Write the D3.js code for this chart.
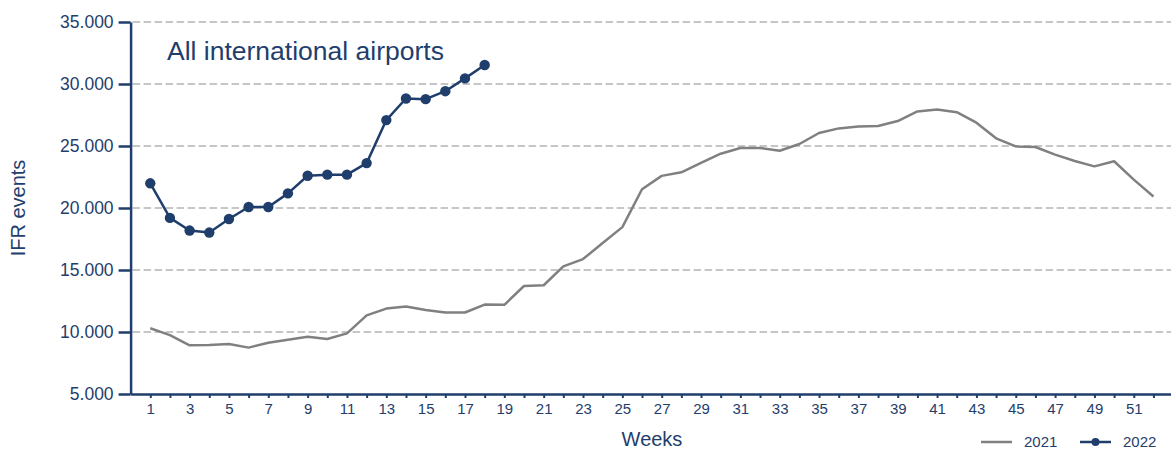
<!DOCTYPE html>
<html>
<head>
<meta charset="utf-8">
<script src="https://cdn.jsdelivr.net/npm/d3@7"></script>
<style>
  html, body { margin: 0; padding: 0; background: #fff; }
  svg { display: block; font-family: "Liberation Sans", Arial, sans-serif; }
</style>
</head>
<body>
<svg id="chart" width="1171" height="450"></svg>
<script>
const weeks2021 = [1,2,3,4,5,6,7,8,9,10,11,12,13,14,15,16,17,18,19,20,21,22,23,24,25,26,
  27,28,29,30,31,32,33,34,35,36,37,38,39,40,41,42,43,44,45,46,47,48,49,50,51,52];
const values2021 = [10300, 9750, 8930, 8950, 9040, 8740, 9140, 9380, 9620, 9440,
  9890, 11340, 11890, 12050, 11780, 11570, 11570, 12210, 12190, 13710,
  13770, 15290, 15880, 17170, 18460, 21510, 22590, 22880, 23630, 24380,
  24840, 24840, 24620, 25160, 26050, 26420, 26580, 26610, 27010, 27790,
  27950, 27730, 26880, 25620, 24970, 24920, 24300, 23790, 23360, 23770,
  22290, 20930];
const weeks2022 = [1,2,3,4,5,6,7,8,9,10,11,12,13,14,15,16,17,18];
const values2022 = [21990, 19200, 18180, 18020, 19110, 20080, 20080, 21180, 22600,
  22690, 22690, 23620, 27090, 28830, 28780, 29420, 30450, 31530];
const yTicks = [5000, 10000, 15000, 20000, 25000, 30000, 35000];
const seriesNames = ["2021", "2022"];
const titleText = "All international airports";
const xTitle = "Weeks";
const yTitle = "IFR events";

const navy = "#1f3e6c";
const grey = "#808080";

const svg = d3.select("#chart");
const x = d3.scaleLinear().domain([0, 53]).range([130.6, 130.6 + 53 * 19.67]);
const y = d3.scaleLinear().domain([5000, 35000]).range([394, 22]);

const loc = d3.formatLocale({decimal: ",", thousands: ".", grouping: [3], currency: ["", ""]});
const fmt = loc.format(",.0f");

// gridlines
svg.append("g").selectAll("line")
  .data(yTicks.filter(d => d > 5000))
  .join("line")
  .attr("x1", x(0) + 2).attr("x2", 1171)
  .attr("y1", d => y(d)).attr("y2", d => y(d))
  .attr("stroke", "#c6c6c6").attr("stroke-width", 2)
  .attr("stroke-dasharray", "7.5,3.5");

// y axis
const yAxis = svg.append("g")
  .attr("transform", `translate(${x(0)},0)`)
  .call(d3.axisLeft(y).tickValues(yTicks).tickFormat(fmt).tickSize(12).tickSizeOuter(0).tickPadding(5));
yAxis.select(".domain").attr("stroke", navy).attr("stroke-width", 2.5);
yAxis.selectAll(".tick line").attr("stroke", navy).attr("stroke-width", 2.5);
yAxis.selectAll(".tick text").attr("fill", navy).attr("font-size", 17.5)
  .attr("font-family", "Liberation Sans, Arial, sans-serif");

// x axis
const xAxis = svg.append("g")
  .attr("transform", `translate(0,${y(5000)})`)
  .call(d3.axisBottom(x).tickValues(weeks2021)
    .tickFormat(d => d % 2 === 1 ? d : "").tickSize(4).tickSizeOuter(0).tickPadding(5));
xAxis.select(".domain").attr("stroke", navy).attr("stroke-width", 2.5);
xAxis.selectAll(".tick line").attr("stroke", navy).attr("stroke-width", 2);
xAxis.selectAll(".tick text").attr("fill", navy).attr("font-size", 15)
  .attr("font-family", "Liberation Sans, Arial, sans-serif");

// lines
const line = d3.line().x(d => x(d[0])).y(d => y(d[1]));
svg.append("path")
  .datum(weeks2021.map((w, i) => [w, values2021[i]]))
  .attr("d", line).attr("fill", "none")
  .attr("stroke", grey).attr("stroke-width", 2.5).attr("stroke-linejoin", "round");

const d22 = weeks2022.map((w, i) => [w, values2022[i]]);
svg.append("path")
  .datum(d22)
  .attr("d", line).attr("fill", "none")
  .attr("stroke", navy).attr("stroke-width", 2.5).attr("stroke-linejoin", "round");
svg.append("g").selectAll("circle")
  .data(d22).join("circle")
  .attr("cx", d => x(d[0])).attr("cy", d => y(d[1])).attr("r", 5.2)
  .attr("fill", navy);

// title
svg.append("text").attr("x", 167).attr("y", 60)
  .attr("font-size", 26.5).attr("fill", navy).text(titleText);

// axis titles
svg.append("text").attr("x", 652).attr("y", 445.5).attr("text-anchor", "middle")
  .attr("font-size", 20).attr("fill", navy).text(xTitle);
svg.append("text").attr("transform", "translate(25,208) rotate(-90)")
  .attr("text-anchor", "middle").attr("font-size", 20).attr("fill", navy).text(yTitle);

// legend
const lg = svg.append("g");
lg.append("line").attr("x1", 981).attr("x2", 1012).attr("y1", 442).attr("y2", 442)
  .attr("stroke", grey).attr("stroke-width", 2.5);
lg.append("text").attr("x", 1024).attr("y", 447).attr("font-size", 15).attr("fill", navy).text(seriesNames[0]);
lg.append("line").attr("x1", 1080).attr("x2", 1111).attr("y1", 442).attr("y2", 442)
  .attr("stroke", navy).attr("stroke-width", 2.5);
lg.append("circle").attr("cx", 1095.5).attr("cy", 442).attr("r", 4).attr("fill", navy);
lg.append("text").attr("x", 1123).attr("y", 447).attr("font-size", 15).attr("fill", navy).text(seriesNames[1]);
</script>
</body>
</html>
